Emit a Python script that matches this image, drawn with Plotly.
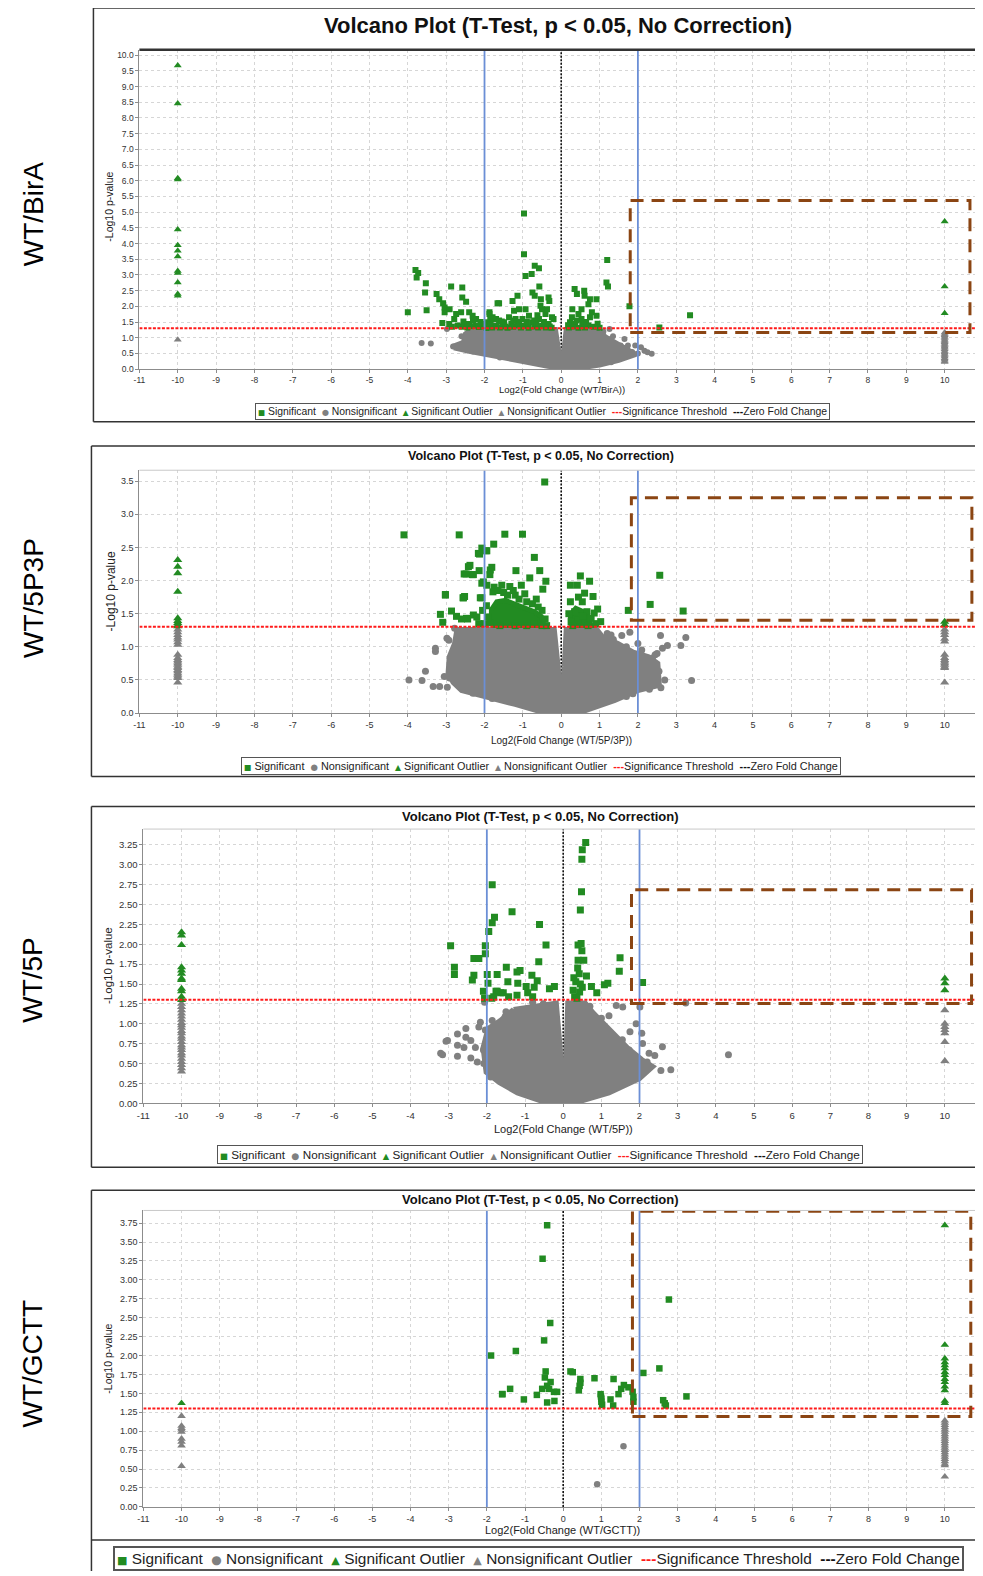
import math
import plotly.graph_objects as go

# ---------------------------------------------------------------- data
comparisons = ["WT/BirA", "WT/5P3P", "WT/5P", "WT/GCTT"]
x_axis_titles = ["Log2(Fold Change (WT/BirA))", "Log2(Fold Change (WT/5P/3P))",
                 "Log2(Fold Change (WT/5P))", "Log2(Fold Change (WT/GCTT))"]
y_axis_title = "-Log10 p-value"
plot_title = "Volcano Plot (T-Test, p < 0.05, No Correction)"
legend_labels = ["Significant", "Nonsignificant", "Significant Outlier",
                 "Nonsignificant Outlier", "Significance Threshold", "Zero Fold Change"]
x_ticks = list(range(-11, 11))
p_cutoff = 0.05
fc_cutoff = 2
outlier_fc = 10

# ---- WT/BirA
birA_sig = [(-4.00,1.81),(-3.80,3.16),(-3.73,3.06),(-3.77,2.92),(-3.53,2.74),(-3.55,2.44),(-3.51,1.88),(-3.25,2.39),
    (-3.18,2.23),(-3.08,2.10),(-3.04,1.96),(-3.04,1.81),(-3.10,1.47),(-2.87,2.63),(-2.58,2.60),(-2.58,2.28),(-2.48,2.15),
    (-2.91,1.91),(-2.74,1.76),(-2.61,1.81),(-2.40,1.81),(-2.31,1.70),(-2.22,1.60),(-2.79,1.60),(-2.92,1.44),(-2.49,1.44),
    (-2.70,1.39),(-2.22,1.39),(-1.87,1.81),(-1.79,1.65),(-1.92,1.49),(-1.62,2.10),(-1.70,1.60),(-2.05,1.44),(-2.40,1.44),
    (-1.66,2.10),(-1.87,1.76),(-1.73,1.60),(-1.62,1.55),(-1.84,1.44),(-1.49,1.49),(-1.14,2.34),(-1.27,2.17),(-0.97,4.96),
    (-0.97,3.66),(-0.93,2.97),(-0.77,3.03),(-0.69,3.29),(-0.58,3.21),(-0.57,2.63),(-0.75,2.44),(-0.69,2.34),(-0.53,2.23),
    (-0.33,2.28),(-0.31,2.17),(-1.10,1.91),(-0.93,1.91),(-1.23,1.86),(-0.84,1.70),(-0.50,1.91),(-0.41,1.76),(-0.24,1.65),
    (-0.58,1.60),(-0.76,1.49),(-1.01,1.60),(-1.19,1.60),(-1.36,1.65),(-1.53,1.44),(-0.33,1.44),(-0.20,1.60),(-0.37,1.91),
    (-0.54,2.02),(-2.60,1.35),(-2.45,1.33),(-2.35,1.37),(-2.15,1.34),(-2.00,1.36),(-1.95,1.31),(-1.80,1.33),(-1.70,1.38),
    (-1.60,1.33),(-1.45,1.36),(-1.40,1.32),(-1.30,1.45),(-1.25,1.35),(-1.15,1.40),(-1.05,1.33),(-0.95,1.38),(-0.90,1.50),
    (-0.85,1.32),(-0.70,1.36),(-0.65,1.45),(-0.60,1.33),(-0.50,1.38),(-0.45,1.50),(-0.40,1.33),(-0.30,1.36),(-0.25,1.32),
    (-1.10,1.50),(-1.55,1.52),(-2.10,1.50),(-2.30,1.55),(-0.62,1.72),(-0.70,1.55),(-1.25,1.55),(-1.85,1.62),(-2.55,1.52),
    (-2.85,1.35),(0.35,2.55),(0.41,2.39),(0.60,2.50),(0.61,2.34),(0.75,2.23),(0.92,2.23),(1.20,3.48),(1.18,2.76),
    (1.22,2.63),(0.29,1.91),(0.45,1.76),(0.53,1.91),(0.71,2.07),(0.92,1.70),(0.75,1.65),(0.53,1.60),(0.23,1.49),
    (0.36,1.44),(0.71,1.39),(0.28,1.65),(0.80,1.81),(1.78,2.00),(2.56,1.33),(3.36,1.72),(0.20,1.33),(0.30,1.36),
    (0.45,1.32),(0.55,1.42),(0.62,1.33),(0.85,1.35),(0.40,1.55),(0.65,1.50),(0.95,1.45),(1.00,1.32),(0.18,1.40)]
birA_ns = [(-3.64,0.83),(-3.40,0.82),(-2.82,0.72),(-2.98,1.28),(-2.70,0.68),(-2.55,0.64),(1.65,0.96),(1.55,0.75),
    (1.74,0.75),(1.93,0.75),(2.08,0.70),(2.17,0.59),(2.36,0.49),(2.25,0.54),(0.96,1.09),(1.22,0.96),(1.48,0.75),
    (1.26,1.28),(1.57,0.43),(1.40,0.54),(1.10,1.20),(1.35,1.05),(1.85,0.55),(2.00,0.50),(-2.45,0.60),(-2.30,0.56),
    (-2.50,0.90),(-2.60,1.05),(1.10,1.08),(1.70,0.68),(-1.60,0.37),(1.30,0.22)]
birA_ns_dense_left = [(-2.80,0.68),(-2.80,0.74),(-2.55,0.85),(-2.50,1.12),(-2.35,1.26),(-0.15,1.26),(-0.08,0.70),
    (-0.02,0.32),(-0.02,0.04),(-0.35,0.09),(-1.20,0.29),(-2.00,0.45),(-2.40,0.57)]
birA_ns_dense_right = [(0.02,0.32),(0.08,0.70),(0.13,1.26),(0.88,1.26),(1.02,1.12),(1.28,0.95),(1.52,0.78),
    (1.78,0.60),(1.95,0.47),(1.50,0.28),(1.00,0.13),(0.50,0.04),(0.02,0.04)]
birA_out_sig_left = [9.67, 8.46, 6.08, 6.04, 4.45, 3.95, 3.77, 3.59, 3.13, 3.06, 2.76, 2.39, 2.34]
birA_out_ns_left = [0.94]
birA_out_sig_right = [4.70, 2.63, 1.78]
birA_out_ns_right = [1.17, 1.12, 1.08, 1.03, 0.99, 0.94, 0.90, 0.86, 0.81, 0.77, 0.72, 0.68, 0.63, 0.58,
                     0.54, 0.49, 0.45, 0.40, 0.35, 0.31, 0.26, 0.23]

# ---- WT/5P3P
p53_sig = [(-4.10,2.69),(-2.66,2.69),(-3.02,1.78),(-3.15,1.49),(-3.09,1.37),(-2.86,1.54),(-2.73,1.46),(-2.60,1.42),
    (-2.56,1.74),(-2.52,1.76),(-2.44,1.42),(-2.29,1.48),(-2.47,1.43),(-2.53,2.10),(-2.42,2.21),(-2.32,2.09),(-2.16,2.41),
    (-2.14,2.15),(-2.07,1.96),(-2.11,1.74),(-1.85,2.16),(-1.76,2.55),(-1.96,2.45),(-1.85,1.36),(-0.43,3.49),(-1.47,2.70),
    (-1.01,2.70),(-2.07,2.49),(-1.94,2.45),(-2.13,2.40),(-0.70,2.35),(-1.18,2.15),(-0.56,2.15),(-0.82,2.04),(-0.40,1.99),
    (-0.48,1.87),(-1.81,2.20),(-1.86,2.09),(-2.03,1.98),(-1.94,1.93),(-1.55,1.93),(-1.34,1.91),(-1.04,1.93),(-0.95,1.80),
    (-1.78,1.83),(-2.07,1.74),(-2.55,1.74),(-3.02,1.79),(-2.38,2.23),(-2.29,2.09),(-2.48,2.10),(-2.00,1.35),(-2.05,1.55),
    (-1.95,1.62),(-2.15,1.35),(-2.20,1.45),(-1.90,1.45),(-1.75,1.90),(-1.65,1.85),(-1.50,1.82),(-1.40,1.78),(-1.20,1.78),
    (-1.10,1.72),(-0.90,1.68),(-0.75,1.65),(-0.60,1.60),(-0.50,1.55),(-0.42,1.42),(-0.38,1.32),(-0.50,1.32),(-0.65,1.72),
    (-1.25,1.85),(-1.60,1.32),(-1.20,1.32),(-0.90,1.32),(-0.70,1.35),(0.24,1.93),(0.42,1.93),(0.50,2.07),(0.74,1.99),
    (0.61,1.81),(0.83,1.76),(0.24,1.68),(0.35,1.53),(0.55,1.68),(0.67,1.53),(0.95,1.57),(1.03,1.38),(0.26,1.38),
    (0.43,1.41),(0.56,1.46),(0.78,1.43),(0.86,1.51),(1.75,1.55),(2.32,1.64),(2.57,2.08),(3.18,1.54),(0.20,1.50),
    (0.30,1.32),(0.70,1.32),(0.90,1.35),(0.45,1.75)]
p53_sig_dense_left = [(-1.82,1.32),(-1.82,1.56),(-1.68,1.68),(-1.45,1.70),(-1.15,1.63),(-0.95,1.58),(-0.70,1.53),
    (-0.52,1.46),(-0.45,1.32)]
p53_sig_dense_right = [(0.24,1.32),(0.24,1.48),(0.38,1.58),(0.58,1.53),(0.70,1.44),(0.78,1.32)]
p53_ns = [(-3.97,0.50),(-3.63,0.49),(-3.54,0.63),(-3.34,0.40),(-3.17,0.40),(-2.97,0.39),(-3.28,0.98),(-3.28,0.93),
    (-2.98,1.13),(-2.93,1.10),(-2.79,0.68),(-2.91,0.53),(-2.74,1.06),(-2.48,1.07),(-2.39,1.16),(-2.78,1.28),(-3.05,0.55),
    (2.59,1.17),(3.25,1.14),(3.12,1.02),(3.40,0.49),(1.87,0.29),(1.36,1.11),(1.58,1.17),(1.79,1.22),(2.64,0.98),
    (2.77,1.02),(2.38,0.83),(2.55,0.63),(2.60,0.38),(2.50,0.90),(2.20,0.70),(2.70,0.50),(1.20,1.20),(2.00,1.05),
    (1.30,1.18),(1.70,1.00),(2.10,0.95),(2.45,0.88),(-2.30,0.30),(-1.80,0.22),(1.70,0.25),(2.30,0.36)]
p53_ns_dense_left = [(-2.72,1.26),(-0.18,1.26),(-0.08,0.70),(-0.02,0.34),(-0.02,0.03),(-0.60,0.03),(-1.20,0.13),
    (-1.60,0.19),(-2.00,0.26),(-2.60,0.34),(-2.82,0.46),(-2.95,0.60),(-2.92,0.85),(-2.78,1.05)]
p53_ns_dense_right = [(0.02,0.34),(0.08,0.70),(0.13,1.26),(0.93,1.26),(1.08,1.15),(1.48,1.05),(1.88,0.92),
    (2.28,0.85),(2.52,0.75),(2.56,0.42),(2.00,0.34),(1.40,0.19),(0.60,0.03),(0.02,0.03)]
p53_out_sig_left = [2.31, 2.21, 2.11, 1.83, 1.43, 1.39, 1.36, 1.33, 1.31]
p53_out_ns_left = [1.26, 1.22, 1.18, 1.14, 1.11, 1.07, 1.03, 0.88, 0.83, 0.80, 0.78, 0.75, 0.73, 0.70,
                   0.68, 0.65, 0.63, 0.60, 0.58, 0.55, 0.53, 0.46]
p53_out_sig_right = [1.38, 1.33]
p53_out_ns_right = [1.26, 1.22, 1.18, 1.12, 1.08, 0.88, 0.83, 0.80, 0.78, 0.75, 0.73, 0.70, 0.68, 0.46]

# ---- WT/5P
p5_sig = [(-2.95,1.98),(-2.85,1.71),(-2.85,1.62),(-2.38,1.55),(-2.34,1.61),(-2.34,1.82),(-2.21,1.82),(-2.04,1.98),
    (-2.04,1.88),(-1.99,1.62),(-1.97,1.51),(-1.95,2.16),(-1.86,2.75),(-1.86,2.27),(-1.80,2.34),(-1.73,1.62),(-2.09,1.41),
    (-2.06,1.32),(-1.87,1.32),(-1.76,1.41),(-1.64,1.39),(-1.34,2.41),(-0.62,2.25),(-0.45,1.99),(-0.64,1.78),(-1.49,1.71),
    (-1.21,1.65),(-1.13,1.67),(-0.82,1.61),(-1.45,1.53),(-1.19,1.51),(-0.97,1.47),(-0.76,1.46),(-0.68,1.54),(-0.36,1.44),
    (-0.23,1.47),(-1.73,1.41),(-1.57,1.39),(-1.43,1.34),(-1.21,1.36),(-0.93,1.39),(-0.80,1.34),(-1.82,1.34),(0.59,3.28),
    (0.50,3.19),(0.49,3.07),(0.48,2.66),(0.45,2.43),(0.47,2.01),(0.39,1.99),(0.49,1.92),(0.39,1.80),(0.54,1.80),
    (0.42,1.63),(0.61,1.60),(0.33,1.53),(0.50,1.46),(0.26,1.42),(0.43,1.40),(0.30,1.34),(0.74,1.47),(0.88,1.39),
    (1.08,1.49),(1.17,1.51),(1.47,1.66),(1.49,1.83),(2.08,1.52),(0.38,1.70),(0.28,1.58),(0.36,1.32),(0.45,1.50)]
p5_ns = [(-3.21,0.63),(-3.16,0.61),(-3.07,0.78),(-3.03,0.79),(-2.77,0.87),(-2.55,0.94),(-2.55,0.83),(-2.77,0.73),
    (-2.42,0.79),(-2.42,0.57),(-2.77,0.59),(-2.25,0.52),(-2.06,1.27),(-1.86,1.04),(-2.17,1.02),(-2.21,0.96),(-2.04,0.92),
    (-2.09,0.67),(-1.83,0.75),(-2.00,0.46),(-1.83,0.40),(-1.66,0.40),(-1.43,1.12),(-1.52,1.09),(-1.13,1.17),(-0.95,1.00),
    (-0.52,1.25),(-0.31,1.23),(-2.30,0.70),(-2.60,0.70),(1.39,1.23),(1.56,1.21),(1.91,1.00),(2.01,1.21),(2.08,0.75),
    (2.60,0.71),(2.56,0.41),(2.82,0.42),(3.21,1.26),(4.33,0.61),(2.06,0.88),(2.25,0.63),(1.73,0.67),(1.56,0.50),
    (1.47,0.75),(1.20,1.10),(1.75,0.90),(2.40,0.60),(-1.50,1.15),(-0.80,1.27),(0.70,1.22),(1.00,1.07),(1.55,0.80),
    (2.20,0.52),(-2.08,0.50),(-1.90,0.33)]
p5_ns_dense_left = [(-1.30,1.18),(-0.18,1.26),(-0.08,0.70),(-0.02,0.27),(-0.02,0.03),(-0.60,0.03),(-1.20,0.13),
    (-1.68,0.26),(-2.02,0.39),(-2.10,0.70),(-1.97,0.94),(-1.65,1.04)]
p5_ns_dense_right = [(0.02,0.27),(0.08,0.70),(0.12,1.26),(0.58,1.26),(0.78,1.14),(1.08,1.00),(1.38,0.85),
    (1.68,0.70),(2.06,0.55),(2.35,0.46),(2.00,0.31),(1.20,0.13),(0.50,0.03),(0.02,0.03)]
p5_out_sig_left = [2.15, 2.11, 1.99, 1.71, 1.67, 1.63, 1.57, 1.55, 1.44, 1.41, 1.34, 1.30]
p5_out_ns_left = [1.25, 1.21, 1.17, 1.13, 1.09, 1.05, 1.01, 0.98, 0.95, 0.91, 0.88, 0.84, 0.81, 0.77, 0.73,
                  0.70, 0.67, 0.63, 0.60, 0.56, 0.52, 0.48, 0.44, 0.40]
p5_out_sig_right = [1.57, 1.51, 1.42]
p5_out_ns_right = [1.17, 1.00, 0.96, 0.92, 0.88, 0.77, 0.53]

# ---- WT/GCTT
gctt_sig = [(-1.89,2.00),(-1.60,1.49),(-1.24,2.06),(-0.42,3.72),(-0.54,3.28),(-0.34,2.43),(-0.50,2.20),(-1.59,1.49),
    (-1.39,1.56),(-1.03,1.42),(-0.69,1.48),(-0.46,1.79),(-0.48,1.71),(-0.55,1.56),(-0.42,1.60),(-0.33,1.65),(-0.37,1.56),
    (-0.24,1.52),(-0.16,1.52),(-0.42,1.38),(-0.23,1.40),(0.19,1.79),(0.25,1.78),(0.45,1.69),(0.43,1.60),(0.41,1.54),
    (0.82,1.70),(0.98,1.49),(1.00,1.43),(1.02,1.35),(1.24,1.42),(1.31,1.34),(1.32,1.69),(1.45,1.49),(1.52,1.56),
    (1.59,1.61),(1.71,1.58),(1.82,1.52),(1.84,1.39),(2.10,1.77),(2.52,1.83),(2.77,2.74),(2.62,1.41),(2.69,1.34),
    (2.66,1.37),(3.23,1.46),(0.45,1.64),(0.99,1.46),(1.84,1.45),(1.00,1.39)]
gctt_ns = [(1.58,0.80),(0.89,0.30)]
gctt_out_sig_left = [1.37]
gctt_out_ns_left = [1.20, 1.07, 1.04, 1.02, 0.99, 0.90, 0.86, 0.81, 0.54]
gctt_out_sig_right = [3.72, 2.14, 1.96, 1.91, 1.87, 1.83, 1.78, 1.74, 1.69, 1.65, 1.59, 1.54, 1.40, 1.37]
gctt_out_ns_right = [1.14, 1.11, 1.08, 1.05, 1.02, 0.99, 0.96, 0.93, 0.90, 0.87, 0.84, 0.81, 0.78, 0.75,
                     0.72, 0.69, 0.66, 0.63, 0.60, 0.57, 0.55, 0.40]

# highlighted regions drawn by hand on each panel (x0, x1, y0, y1 in data units)
highlight_boxes = [(1.80, 10.66, 1.17, 5.37), (1.83, 10.71, 1.40, 3.25),
                   (1.79, 10.70, 1.255, 2.685), (1.815, 10.68, 1.195, 3.905)]

# ---------------------------------------------------------------- style / layout
PAGE_W, PAGE_H = 983, 1576
OFF = 8                                   # default page margin of the html body
W, H = PAGE_W - OFF, PAGE_H - OFF         # figure size so that it ends at the window edge
GREEN, GRAY, BLUE, BROWN, RED = "#228B22", "#808080", "#6B8FD6", "#8B4513", "#FF1A1A"
FONT = "Liberation Sans, Arial, sans-serif"

def P(px):
    return (px - OFF) / W

def Q(py):
    return 1 - (py - OFF) / H

panels = [
    dict(sig=birA_sig, ns=birA_ns, ns_dense=[birA_ns_dense_left, birA_ns_dense_right], sig_dense=[],
         out=(birA_out_sig_left, birA_out_sig_right, birA_out_ns_left, birA_out_ns_right)),
    dict(sig=p53_sig, ns=p53_ns, ns_dense=[p53_ns_dense_left, p53_ns_dense_right],
         sig_dense=[p53_sig_dense_left, p53_sig_dense_right],
         out=(p53_out_sig_left, p53_out_sig_right, p53_out_ns_left, p53_out_ns_right)),
    dict(sig=p5_sig, ns=p5_ns, ns_dense=[p5_ns_dense_left, p5_ns_dense_right], sig_dense=[],
         out=(p5_out_sig_left, p5_out_sig_right, p5_out_ns_left, p5_out_ns_right)),
    dict(sig=gctt_sig, ns=gctt_ns, ns_dense=[], sig_dense=[],
         out=(gctt_out_sig_left, gctt_out_sig_right, gctt_out_ns_left, gctt_out_ns_right)),
]

geom = [
    dict(left=133.3, top=50, bottom=370.3, ymax=10.17, dtick=0.5, fmt=".1f", tfs=8.5, ms=6,
         title=(555, 26, 22), xt=(559, 391, 9.5), yt=(103, 207, 10.5), leg=(539, 413, 10.4, 1),
         side=214, frame=(87, 8, 423)),
    dict(left=133.3, top=471.7, bottom=715.3, ymax=3.666, dtick=0.5, fmt=".1f", tfs=9, ms=7,
         title=(537.5, 457, 12.5), xt=(558, 743, 10), yt=(105, 593, 12), leg=(538, 768, 10.85, 1),
         side=600, frame=(85, 447.3, 779)),
    dict(left=137.3, top=831.7, bottom=1106.7, ymax=3.45, dtick=0.25, fmt=".2f", tfs=9.5, ms=7,
         title=(537.5, 819, 13), xt=(560, 1133, 11), yt=(101.7, 969, 11.5), leg=(537, 1158.5, 11.7, 1),
         side=983, frame=(85, 809, 1171)),
    dict(left=137.3, top=1214.3, bottom=1511.7, ymax=3.917, dtick=0.25, fmt=".2f", tfs=9, ms=6.5,
         title=(537, 1203, 13), xt=(559, 1535, 11), yt=(101.7, 1363, 10.5), leg=(535, 1563.5, 15.4, 2),
         side=1368, frame=(85, 1194, 1576)),
]

fig = go.Figure()
shapes, annotations = [], []
sig_line_y = -math.log10(p_cutoff)


def frame_line(x0, y0, x1, y1, color="#333333", width=1.5):
    shapes.append(dict(type="line", xref="paper", yref="paper", x0=P(x0), y0=Q(y0), x1=P(x1), y1=Q(y1),
                       line=dict(color=color, width=width), layer="above"))


def legend_text(fs):
    nb = "\u00a0"
    sym = "font-family:DejaVu Sans"
    parts = [
        f'<span style="color:{GREEN};{sym};font-size:{fs*0.72:.1f}px">■</span>{nb}{legend_labels[0]}',
        f'<span style="color:{GRAY};{sym};font-size:{fs*0.78:.1f}px">●</span>{nb}{legend_labels[1]}',
        f'<span style="color:{GREEN};{sym};font-size:{fs*0.72:.1f}px">▲</span>{nb}{legend_labels[2]}',
        f'<span style="color:{GRAY};{sym};font-size:{fs*0.72:.1f}px">▲</span>{nb}{legend_labels[3]}',
        f'<span style="color:{RED}"><b>---</b></span>{legend_labels[4]}',
        f'<span style="color:#111111"><b>---</b></span>{legend_labels[5]}',
    ]
    return (nb * 2).join(parts)


for i, (pd_, g) in enumerate(zip(panels, geom)):
    sfx = "" if i == 0 else str(i + 1)
    xa, ya = "x" + sfx, "y" + sfx
    ms = g["ms"]

    # zero-fold-change line sits underneath the points
    fig.add_trace(go.Scatter(x=[0, 0], y=[0, g["ymax"]], mode="lines",
                             line=dict(color="#111111", width=1.6, dash="2px,1.5px"),
                             name=legend_labels[5], xaxis=xa, yaxis=ya, showlegend=False, hoverinfo="skip"))

    for poly in pd_["ns_dense"]:
        fig.add_trace(go.Scatter(x=[p[0] for p in poly] + [poly[0][0]], y=[p[1] for p in poly] + [poly[0][1]],
                                 mode="lines", fill="toself", fillcolor=GRAY, line=dict(color=GRAY, width=5),
                                 xaxis=xa, yaxis=ya, showlegend=False, hoverinfo="skip"))
    fig.add_trace(go.Scatter(x=[p[0] for p in pd_["ns"]], y=[p[1] for p in pd_["ns"]], mode="markers",
                             marker=dict(symbol="circle", size=ms, color=GRAY), name=legend_labels[1],
                             xaxis=xa, yaxis=ya, showlegend=False))
    for poly in pd_["sig_dense"]:
        fig.add_trace(go.Scatter(x=[p[0] for p in poly] + [poly[0][0]], y=[p[1] for p in poly] + [poly[0][1]],
                                 mode="lines", fill="toself", fillcolor=GREEN, line=dict(color=GREEN, width=5),
                                 xaxis=xa, yaxis=ya, showlegend=False, hoverinfo="skip"))
    fig.add_trace(go.Scatter(x=[p[0] for p in pd_["sig"]], y=[p[1] for p in pd_["sig"]], mode="markers",
                             marker=dict(symbol="square", size=ms, color=GREEN), name=legend_labels[0],
                             xaxis=xa, yaxis=ya, showlegend=False))
    sig_l, sig_r, ns_l, ns_r = pd_["out"]
    fig.add_trace(go.Scatter(x=[-outlier_fc] * len(ns_l) + [outlier_fc] * len(ns_r), y=ns_l + ns_r,
                             mode="markers", marker=dict(symbol="triangle-up", size=ms + 1, color=GRAY),
                             name=legend_labels[3], xaxis=xa, yaxis=ya, showlegend=False))
    fig.add_trace(go.Scatter(x=[-outlier_fc] * len(sig_l) + [outlier_fc] * len(sig_r), y=sig_l + sig_r,
                             mode="markers", marker=dict(symbol="triangle-up", size=ms + 1, color=GREEN),
                             name=legend_labels[2], xaxis=xa, yaxis=ya, showlegend=False))

    axis_common = dict(showgrid=True, gridcolor="#D6D6D6", griddash="dot", gridwidth=1, zeroline=False,
                       showline=True, linecolor="#8C8C8C", linewidth=1, ticks="outside", ticklen=3,
                       tickcolor="#8C8C8C", tickfont=dict(family=FONT, size=g["tfs"], color="#333333"))
    fig.update_layout(**{
        "xaxis" + sfx: dict(domain=[P(g["left"]), 1], range=[-11, 11], anchor=ya, tickmode="array",
                            tickvals=x_ticks, ticktext=[str(t) for t in x_ticks], **axis_common),
        "yaxis" + sfx: dict(domain=[Q(g["bottom"]), Q(g["top"])], range=[0, g["ymax"]], anchor=xa,
                            tick0=0, dtick=g["dtick"], tickformat=g["fmt"], **axis_common),
    })

    # reference lines drawn above the points
    for xv in (-fc_cutoff, fc_cutoff):
        shapes.append(dict(type="line", xref=xa, yref=ya, x0=xv, x1=xv, y0=0, y1=g["ymax"],
                           line=dict(color=BLUE, width=1.8), layer="above"))
    shapes.append(dict(type="line", xref=xa, yref=ya, x0=-11, x1=11, y0=sig_line_y, y1=sig_line_y,
                       line=dict(color=RED, width=2, dash="3px,1.5px"), layer="above"))
    bx0, bx1, by0, by1 = highlight_boxes[i]
    shapes.append(dict(type="rect", xref=xa, yref=ya, x0=bx0, x1=bx1, y0=by0, y1=by1,
                       line=dict(color=BROWN, width=3, dash="13px,8px"), layer="above"))

    # plot-area top border
    frame_line(g["left"], g["top"], PAGE_W, g["top"], color="#C8C8C8" if i else "#333333",
               width=1 if i else 2.5)

    # panel frame
    fl, ft, fb = g["frame"]
    frame_line(fl, ft, fl, fb)
    frame_line(fl, ft, PAGE_W, ft)
    if i < 3:
        frame_line(fl, fb, PAGE_W, fb)
    else:
        frame_line(fl, 1545, PAGE_W, 1545)

    # texts
    tx, ty, tfs = g["title"]
    annotations.append(dict(x=P(tx), y=Q(ty), xref="paper", yref="paper", text="<b>" + plot_title + "</b>",
                            showarrow=False, xanchor="center", yanchor="middle",
                            font=dict(family=FONT, size=tfs, color="#111111")))
    cx, cy, cfs = g["xt"]
    annotations.append(dict(x=P(cx), y=Q(cy), xref="paper", yref="paper", text=x_axis_titles[i],
                            showarrow=False, xanchor="center", yanchor="middle",
                            font=dict(family=FONT, size=cfs, color="#222222")))
    cx, cy, cfs = g["yt"]
    annotations.append(dict(x=P(cx), y=Q(cy), xref="paper", yref="paper", text=y_axis_title, textangle=-90,
                            showarrow=False, xanchor="center", yanchor="middle",
                            font=dict(family=FONT, size=cfs, color="#222222")))
    lx, ly, lfs, lbw = g["leg"]
    annotations.append(dict(x=P(lx), y=Q(ly), xref="paper", yref="paper", text=legend_text(lfs),
                            showarrow=False, xanchor="center", yanchor="middle", bgcolor="white",
                            bordercolor="#555555", borderwidth=lbw, borderpad=2,
                            font=dict(family=FONT, size=lfs, color="#222222")))
    annotations.append(dict(x=P(26), y=Q(g["side"]), xref="paper", yref="paper", text=comparisons[i],
                            textangle=-90, showarrow=False, xanchor="center", yanchor="middle",
                            font=dict(family=FONT, size=28, color="#000000")))

fig.update_layout(width=W, height=H, margin=dict(l=0, r=0, t=0, b=0), paper_bgcolor="white",
                  plot_bgcolor="white", showlegend=False, shapes=shapes, annotations=annotations)
fig.write_html("out.html")
